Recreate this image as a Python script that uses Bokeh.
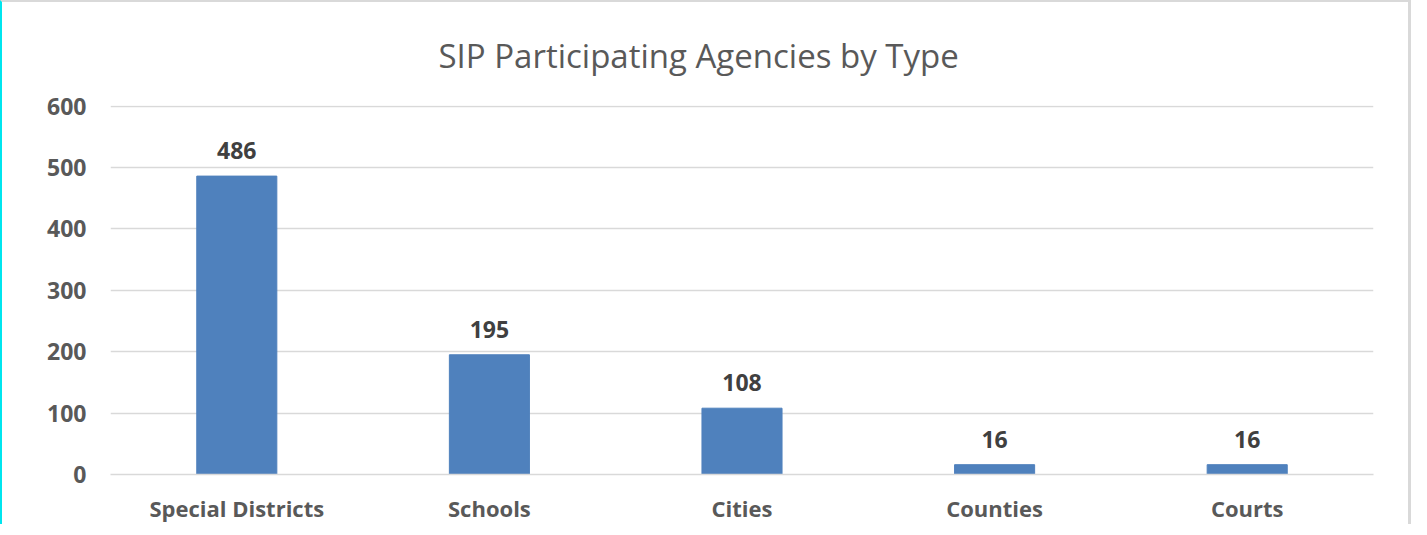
from bokeh.plotting import figure
from bokeh.models import ColumnDataSource, LabelSet, Range1d, FactorRange
from bokeh.core.properties import value
from bokeh.embed import file_html
from bokeh.resources import INLINE

categories = ["Special Districts", "Schools", "Cities", "Counties", "Courts"]
values = [486, 195, 108, 16, 16]
labels = [str(v) for v in values]
yticks = [0, 100, 200, 300, 400, 500, 600]

src = ColumnDataSource(dict(cat=categories, val=values, lab=labels))

p = figure(x_range=FactorRange(*categories), y_range=Range1d(0, 601),
           width=1411, height=524, output_backend="svg", toolbar_location=None,
           title="SIP Participating Agencies by Type",
           min_border_left=108, min_border_right=40, min_border_bottom=52, min_border_top=103)

p.vbar(x="cat", top="val", width=0.317, source=src, color="#4f81bd")
p.add_layout(LabelSet(x="cat", y="val", text="lab", source=src, text_align="center",
                      text_baseline="alphabetic", y_offset=17, text_font_size="23px",
                      text_font_style="bold", text_color="#404040",
                      text_font=value("Open Sans")))

p.title.align = "left"
p.title.offset = 328
p.title.text_font = "Open Sans"
p.title.text_font_size = "33px"
p.title.text_font_style = "normal"
p.title.text_color = "#595959"
p.title.standoff = 55

p.outline_line_color = None
p.xgrid.grid_line_color = None
p.ygrid.grid_line_color = "#d9d9d9"
p.ygrid.grid_line_width = 1.5
p.yaxis.ticker = yticks

for ax in (p.xaxis[0], p.yaxis[0]):
    ax.major_tick_line_color = None
    ax.minor_tick_line_color = None
    ax.major_label_text_font = "Open Sans"
    ax.major_label_text_font_style = "bold"
    ax.major_label_text_color = "#595959"
p.xaxis.major_label_text_font_size = "22px"
p.yaxis.major_label_text_font_size = "23px"
p.yaxis.axis_line_color = None
p.xaxis.axis_line_color = "#d9d9d9"
p.xaxis.axis_line_width = 1.5
p.yaxis.major_label_standoff = 18
p.xaxis.major_label_standoff = 12

p.styles = {"border-top": "2px solid #d9d9d9", "border-right": "3px solid #d9d9d9",
            "border-left": "2px solid #00e5ee"}

open("out.html", "w").write(file_html(p, INLINE))
